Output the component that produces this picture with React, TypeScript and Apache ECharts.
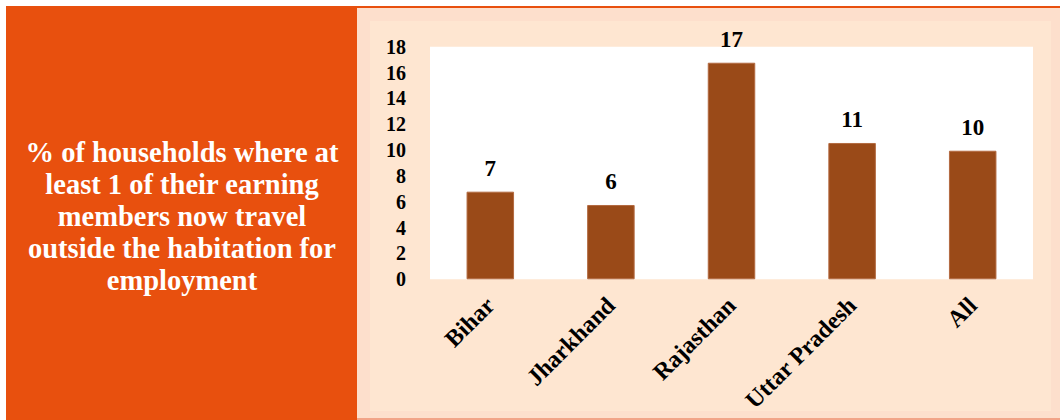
import React, { useEffect, useRef } from "react";
import * as echarts from "echarts";

const categories = ["Bihar", "Jharkhand", "Rajasthan", "Uttar Pradesh", "All"];
const values = [6.78, 5.75, 16.76, 10.55, 9.95];
const yTicks = { min: 0, max: 18, interval: 2 };
const titleLines = [
  "% of households where at",
  "least 1 of their earning",
  "members now travel",
  "outside the habitation for",
  "employment",
];

const FONT = "'Liberation Serif', 'DejaVu Serif', serif";

export default function App() {
  const ref = useRef<HTMLDivElement>(null);
  useEffect(() => {
    if (!ref.current) return;
    const chart = echarts.init(ref.current, undefined, { renderer: "svg" });
    chart.setOption({
      animation: false,
      backgroundColor: "#ffffff",
      graphic: [
        { type: "rect", z: -10, shape: { x: 6, y: 6, width: 351, height: 414 }, style: { fill: "#E8500E" } },
        { type: "rect", z: -10, shape: { x: 357, y: 6, width: 703, height: 2 }, style: { fill: "#E8500E" } },
        { type: "rect", z: -10, shape: { x: 357, y: 8, width: 703, height: 410 }, style: { fill: "#FDDFCC" } },
        { type: "rect", z: -9, shape: { x: 370, y: 21, width: 681, height: 390 }, style: { fill: "#FEE6D1" } },
        { type: "rect", z: -9, shape: { x: 357, y: 418, width: 703, height: 2 }, style: { fill: "#F2A488" } },
        {
          type: "text",
          x: 182,
          y: 216,
          style: {
            text: titleLines.join("\n"),
            fill: "#ffffff",
            font: `bold 28.5px ${FONT}`,
            align: "center",
            verticalAlign: "middle",
            lineHeight: 32,
          },
        },
      ],
      grid: {
        left: 430,
        top: 46.7,
        right: 27,
        bottom: 140.7,
        show: true,
        backgroundColor: "#ffffff",
        borderWidth: 0,
      },
      xAxis: {
        type: "category",
        data: categories,
        axisLine: { show: false },
        axisTick: { show: false },
        axisLabel: {
          rotate: 45,
          margin: 22,
          color: "#000000",
          fontFamily: FONT,
          fontWeight: "bold",
          fontSize: 24,
          interval: 0,
        },
      },
      yAxis: {
        type: "value",
        min: yTicks.min,
        max: yTicks.max,
        interval: yTicks.interval,
        splitLine: { show: false },
        axisLine: { show: false },
        axisTick: { show: false },
        axisLabel: {
          margin: 24,
          color: "#000000",
          fontFamily: FONT,
          fontWeight: "bold",
          fontSize: 20,
        },
      },
      series: [
        {
          type: "bar",
          data: values,
          barWidth: 47.5,
          itemStyle: { color: "#9A4A18", borderColor: "#B36A40", borderWidth: 1 },
          label: {
            show: true,
            position: "top",
            distance: 12,
            formatter: (p: any) => String(Math.round(p.value)),
            color: "#000000",
            fontFamily: FONT,
            fontWeight: "bold",
            fontSize: 23,
          },
        },
      ],
    });
    return () => chart.dispose();
  }, []);
  return (
    <div
      ref={ref}
      style={{ position: "fixed", left: 0, top: 0, width: 1060, height: 420 }}
    />
  );
}
